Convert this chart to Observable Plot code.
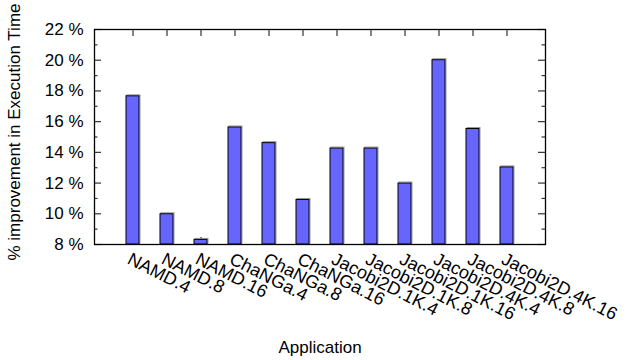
<!DOCTYPE html>
<html>
<head>
<meta charset="utf-8">
<script src="https://cdn.jsdelivr.net/npm/d3@7"></script>
<script src="https://cdn.jsdelivr.net/npm/@observablehq/plot@0.6"></script>
<style>
  html, body { margin: 0; padding: 0; background: #fff; }
  #chart svg { display: block; }
</style>
</head>
<body>
<div id="chart"></div>
<script>
const categories = ["NAMD.4","NAMD.8","NAMD.16","ChaNGa.4","ChaNGa.8","ChaNGa.16","Jacobi2D.1K.4","Jacobi2D.1K.8","Jacobi2D.1K.16","Jacobi2D.4K.4","Jacobi2D.4K.8","Jacobi2D.4K.16"];
const values = [17.65, 9.97, 8.3, 15.62, 14.6, 10.9, 14.25, 14.25, 11.97, 20.0, 15.52, 13.02];
const majorTicks = [8, 10, 12, 14, 16, 18, 20, 22];
const minorTicks = [9, 11, 13, 15, 17, 19, 21];
const yBase = 8;
const yLabel = "% improvement in Execution Time";
const xLabel = "Application";

const data = categories.map((c, i) => ({app: c, value: values[i]}));

const W = 633, H = 360;
const mL = 94, mR = 88, mT = 29, mB = 116;
const fw = W - mL - mR, fh = H - mT - mB;
const font = "'Liberation Sans', Arial, Helvetica, sans-serif";
const fs = 17;

const chart = Plot.plot({
  width: W, height: H,
  marginLeft: mL, marginRight: mR, marginTop: mT, marginBottom: mB,
  style: {fontFamily: font, fontSize: fs + "px", background: "#fff", color: "#000"},
  x: {domain: categories, paddingInner: 0.625, paddingOuter: 0.814, axis: null},
  y: {domain: [8, 22], axis: null},
  marks: [
    // ticks (inward, mirrored)
    Plot.ruleY(majorTicks, {insetRight: fw - 7, stroke: "#333", strokeWidth: 1.2}),
    Plot.ruleY(majorTicks, {insetLeft: fw - 7, stroke: "#333", strokeWidth: 1.2}),
    Plot.ruleY(minorTicks, {insetRight: fw - 3.5, stroke: "#333", strokeWidth: 1.2}),
    Plot.ruleY(minorTicks, {insetLeft: fw - 3.5, stroke: "#333", strokeWidth: 1.2}),
    Plot.ruleX(categories, {insetBottom: fh - 7, stroke: "#333", strokeWidth: 1.2}),
    Plot.ruleX(categories, {insetTop: fh - 7, stroke: "#333", strokeWidth: 1.2}),
    // bar shadow
    Plot.barY(data, {x: "app", y1: yBase, y2: "value", fill: "none", stroke: "#999", strokeWidth: 1, dx: 1, dy: -1}),
    // bars
    Plot.barY(data, {x: "app", y1: yBase, y2: "value", fill: "#6666ff", stroke: "#000", strokeWidth: 1}),
    Plot.frame({stroke: "#000", strokeWidth: 1.3}),
    // y tick labels
    Plot.axisY({ticks: majorTicks, tickSize: 0, tickPadding: 11, tickFormat: d => d + " %", fontSize: fs, label: null}),
    // x tick labels
    Plot.text(categories, {x: d => d, frameAnchor: "bottom", rotate: 27, textAnchor: "start", lineAnchor: "top", dx: -1, dy: 7, fontSize: 18}),
    // axis titles
    Plot.text([xLabel], {frameAnchor: "bottom", textAnchor: "middle", lineAnchor: "bottom", dy: 108, fontSize: fs}),
    Plot.text([yLabel], {frameAnchor: "left", rotate: -90, textAnchor: "middle", lineAnchor: "middle", dx: -80, dy: -5, fontSize: fs})
  ]
});
document.getElementById("chart").appendChild(chart);
</script>
</body>
</html>
